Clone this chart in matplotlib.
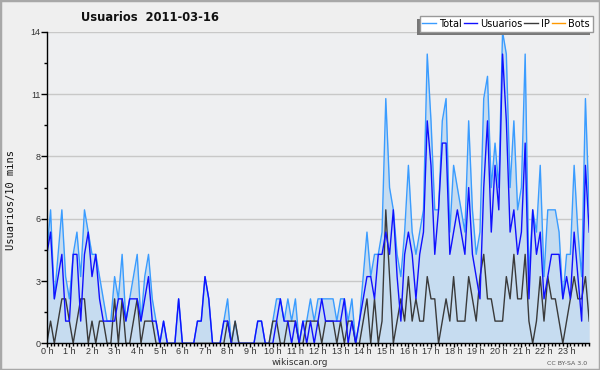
import matplotlib

matplotlib.use("Agg")
import matplotlib.pyplot as plt
import numpy as np
from matplotlib.lines import Line2D
from matplotlib.patches import Rectangle

TITLE = "Usuarios  2011-03-16"
HOUR_LABELS = [f"{h} h" for h in range(24)]
Y_TICKS = [0, 2.8, 5.6, 8.4, 11.2, 14]
Y_LABELS = ["0", "3", "6", "8", "11", "14"]

# one value every 10 minutes, 00:00 -> 24:00 (12 values = 2 hours per row)
total = [
    4, 6, 2, 4, 6, 3, 2, 4, 5, 3, 6, 5,
    4, 4, 3, 2, 1, 1, 3, 2, 4, 1, 2, 3,
    4, 1, 3, 4, 2, 1, 0, 1, 0, 0, 0, 2,
    0, 0, 0, 0, 1, 1, 3, 2, 0, 0, 0, 1,
    2, 0, 1, 0, 0, 0, 0, 0, 1, 1, 0, 0,
    1, 2, 2, 1, 2, 1, 2, 0, 1, 1, 2, 1,
    2, 2, 2, 2, 2, 1, 2, 2, 1, 2, 0, 1,
    3, 5, 3, 4, 4, 5, 11, 7, 6, 4, 3, 5,
    8, 5, 4, 5, 6, 13, 10, 6, 6, 10, 11, 5,
    8, 7, 6, 5, 10, 6, 4, 5, 11, 12, 7, 9,
    7, 14, 13, 7, 10, 6, 7, 13, 3, 6, 5, 8,
    3, 6, 6, 6, 5, 2, 4, 4, 8, 5, 3, 11,
    6,
]
usuarios = [
    4, 5, 2, 3, 4, 1, 1, 4, 4, 1, 4, 5,
    3, 4, 2, 1, 1, 1, 1, 2, 2, 1, 2, 2,
    2, 1, 2, 3, 1, 1, 0, 1, 0, 0, 0, 2,
    0, 0, 0, 0, 1, 1, 3, 2, 0, 0, 0, 1,
    1, 0, 0, 0, 0, 0, 0, 0, 1, 1, 0, 0,
    0, 1, 2, 1, 1, 0, 1, 0, 1, 0, 1, 0,
    1, 2, 1, 1, 1, 1, 1, 2, 0, 1, 0, 1,
    2, 3, 3, 2, 4, 4, 5, 4, 6, 3, 1, 4,
    5, 4, 2, 4, 5, 10, 8, 4, 6, 9, 9, 4,
    5, 6, 5, 4, 7, 4, 3, 2, 7, 10, 5, 8,
    6, 13, 10, 5, 6, 4, 5, 9, 2, 6, 4, 5,
    2, 3, 4, 4, 4, 2, 3, 2, 5, 3, 1, 8,
    5,
]
ip = [
    0, 1, 0, 1, 2, 2, 1, 0, 1, 2, 2, 0,
    1, 0, 1, 1, 0, 0, 2, 0, 2, 0, 0, 1,
    2, 0, 1, 1, 1, 0, 0, 0, 0, 0, 0, 0,
    0, 0, 0, 0, 0, 0, 0, 0, 0, 0, 0, 0,
    1, 0, 1, 0, 0, 0, 0, 0, 0, 0, 0, 0,
    1, 1, 0, 0, 1, 1, 1, 0, 0, 1, 1, 1,
    1, 0, 1, 1, 1, 0, 1, 0, 1, 1, 0, 0,
    1, 2, 0, 2, 0, 1, 6, 3, 0, 1, 2, 1,
    3, 1, 2, 1, 1, 3, 2, 2, 0, 1, 2, 1,
    3, 1, 1, 1, 3, 2, 1, 3, 4, 2, 2, 1,
    1, 1, 3, 2, 4, 2, 2, 4, 1, 0, 1, 3,
    1, 3, 2, 2, 1, 0, 1, 2, 3, 2, 2, 3,
    1,
]
bots = []  # no bot activity that day, only shown in the legend

C_TOTAL = "#3a9cff"
C_FILL = "#c6dcf0"
C_USER = "#1010ff"
C_IP = "#3a3a3a"
C_BOTS = "#ff9900"


def main():
    fig = plt.figure(figsize=(6, 3.7), dpi=100, facecolor="#efefef")
    ax = fig.add_axes([0.078, 0.072, 0.904, 0.842])
    ax.set_facecolor("#eeeff1")

    x = np.arange(len(total)) / 6.0
    ax.fill_between(x, total, 0, color=C_FILL, lw=0, zorder=1)
    ax.plot(x, total, color=C_TOTAL, lw=1, zorder=3)
    ax.plot(x, ip, color=C_IP, lw=1, zorder=4)
    ax.plot(x, usuarios, color=C_USER, lw=1, zorder=5)
    ax.plot(x[: len(bots)], bots, color=C_BOTS, lw=1, zorder=6)

    ax.set_xlim(0, 24)
    ax.set_ylim(0, 14)
    ax.set_yticks(Y_TICKS)
    ax.set_yticklabels(Y_LABELS)
    ax.set_yticks(np.arange(1.4, 14, 2.8), minor=True)
    ax.set_xticks(range(24))
    ax.set_xticklabels(HOUR_LABELS)
    ax.set_xticks(np.arange(0, 24.01, 1 / 6.0), minor=True)

    ax.grid(axis="y", color="#c8c8c8", lw=1, zorder=0)
    ax.set_axisbelow(True)
    for side in ("top", "right"):
        ax.spines[side].set_visible(False)
    for side in ("left", "bottom"):
        ax.spines[side].set_color("black")
        ax.spines[side].set_linewidth(1)
        ax.spines[side].set_zorder(7)

    ax.tick_params(axis="y", which="major", labelsize=6.5, colors="black",
                   labelcolor="#333333", length=4, width=1, pad=0.5)
    ax.tick_params(axis="x", which="major", labelsize=6.5, colors="black",
                   labelcolor="#333333", length=3, width=1, pad=-0.5)
    ax.tick_params(axis="both", which="minor", length=2.5, width=1, colors="black")
    for lab in ax.get_xticklabels() + ax.get_yticklabels():
        lab.set_family("Liberation Sans")

    fig.text(0.25, 0.953, TITLE, ha="center", va="center",
             fontsize=8.3, fontweight="bold", color="#111111")
    fig.text(0.018, 0.46, "Usuarios/10 mins", rotation=90, ha="center",
             va="center", fontsize=7.5, family="DejaVu Sans Mono", color="#111111")
    fig.text(0.5, 0.02, "wikiscan.org", ha="center", va="center",
             fontsize=6.5, color="#333333")
    fig.text(0.978, 0.018, "CC BY-SA 3.0", ha="right", va="center",
             fontsize=4.5, color="#555555")

    handles = [
        Line2D([], [], color=C_TOTAL, lw=1),
        Line2D([], [], color=C_USER, lw=1),
        Line2D([], [], color=C_IP, lw=1),
        Line2D([], [], color=C_BOTS, lw=1),
    ]
    leg = fig.legend(handles, ["Total", "Usuarios", "IP", "Bots"],
                     loc="upper right", bbox_to_anchor=(0.988, 0.957),
                     ncol=4, fontsize=7, frameon=True, fancybox=False,
                     handlelength=1.4, handletextpad=0.3, columnspacing=0.2,
                     borderpad=0.3, borderaxespad=0)
    leg.get_frame().set_edgecolor("#999999")
    leg.get_frame().set_facecolor("white")
    leg.get_frame().set_alpha(1)
    leg.get_frame().set_linewidth(1)
    leg.set_zorder(10)

    # dark shadow down-left of the legend box
    fig.canvas.draw()
    bb = leg.get_window_extent().transformed(fig.transFigure.inverted())
    dx, dy = 3 / 600, 3 / 370
    fig.add_artist(Rectangle((bb.x0 - dx, bb.y0 - dy), bb.width, bb.height,
                             transform=fig.transFigure, color="#777777",
                             lw=0, zorder=9))

    fig.add_artist(Rectangle((0, 0), 1, 1, transform=fig.transFigure,
                             fill=False, edgecolor="#a8a8a8", lw=2.5, zorder=20))

    fig.savefig("out.png", dpi=100, facecolor=fig.get_facecolor())


if __name__ == "__main__":
    main()
